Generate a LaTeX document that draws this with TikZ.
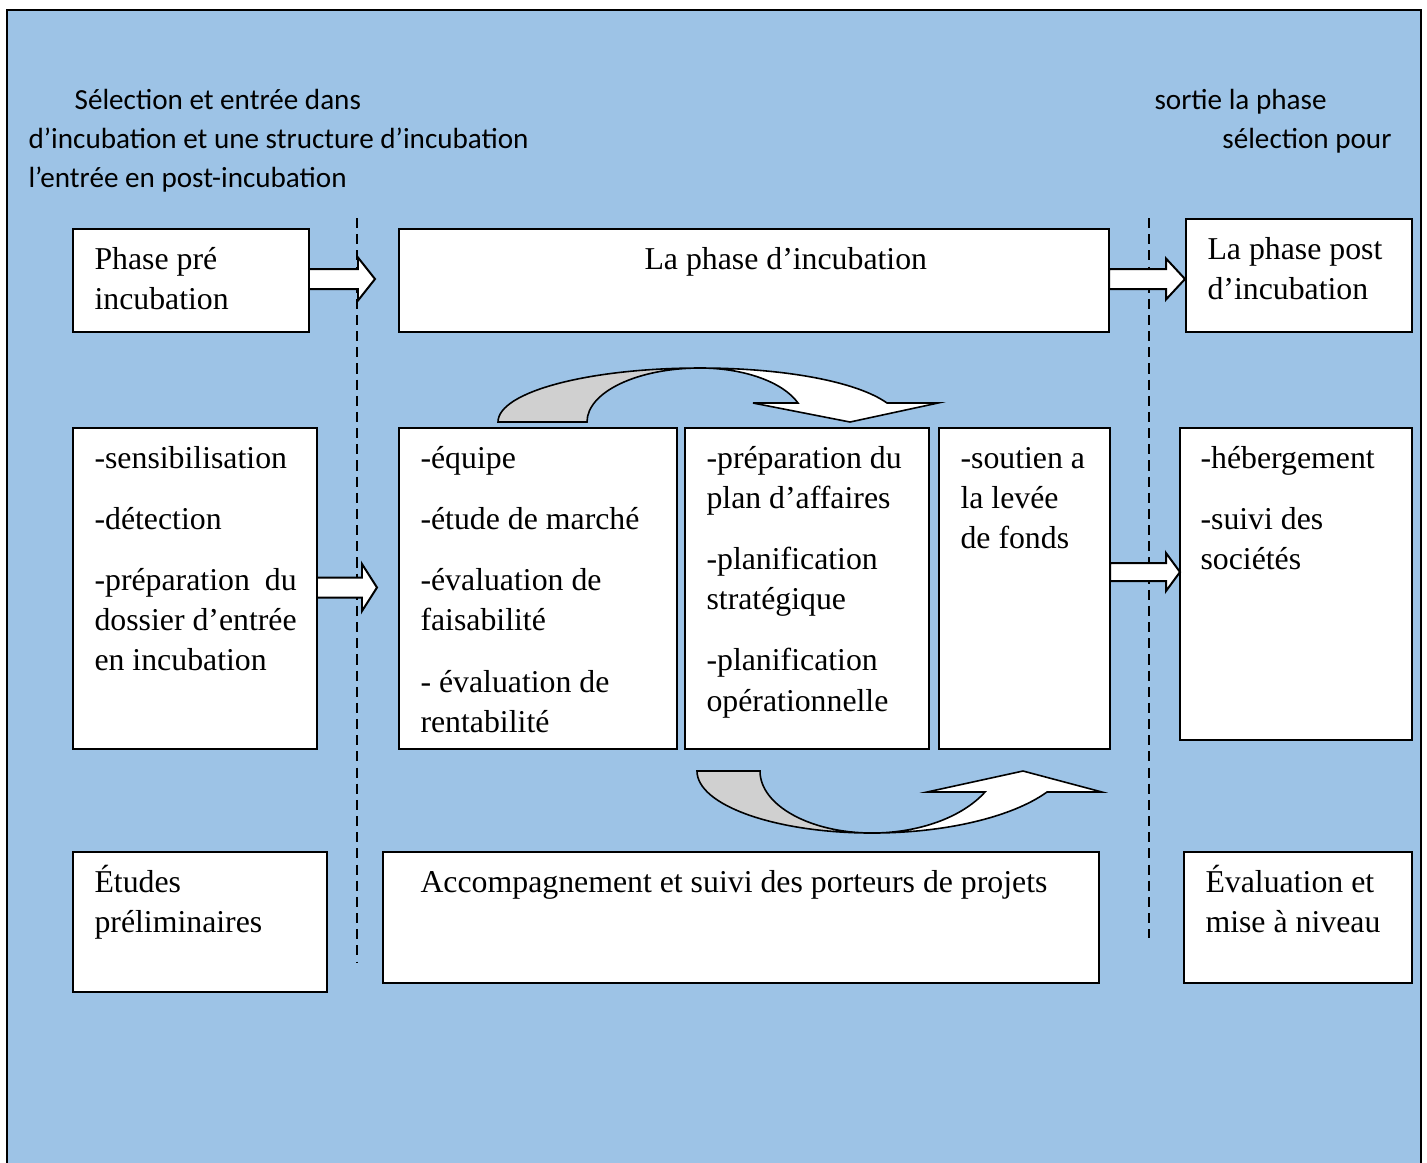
\documentclass[tikz,border=0pt]{standalone}
\usepackage{fontspec}
\setmainfont{Liberation Serif}
\newfontfamily\calibrifont{Carlito}
\usetikzlibrary{calc,fit}
\definecolor{panelblue}{HTML}{9DC3E6}
\definecolor{backband}{HTML}{D0D0D0}
\newcommand\serifsize{\fontsize{12}{15.1}\selectfont}
\newcommand\sanssize{\calibrifont\fontsize{11}{14.72}\selectfont}
% block arrow from the east side of node #1 to the tip #2;
% #3 half shaft, #4 half head, #5 head length (picture units)
\newcommand\flowarrow[5]{%
  \draw[blockarr] ($(#1 |- #2)+(0,-#3)$) -- ($(#2)+(-#5,-#3)$) -- ($(#2)+(-#5,-#4)$)
    -- (#2) -- ($(#2)+(-#5,#4)$) -- ($(#2)+(-#5,#3)$) -- ($(#1 |- #2)+(0,#3)$) -- cycle;}
\begin{document}
\begin{tikzpicture}[x=0.3774pt, y=-0.3774pt,
  box/.style={draw=black, fill=white, line width=0.75pt, inner sep=0pt, outer sep=0pt},
  txt/.style={font=\serifsize, anchor=base west, inner sep=0pt, text width=300pt, align=flush left},
  side/.style={font=\sanssize, inner sep=0pt},
  blockarr/.style={draw=black, fill=white, line width=0.75pt, line join=miter},
  sepline/.style={draw=black, line width=0.75pt, dash pattern=on 3.8pt off 2.3pt},
  band/.style={draw=black, line width=0.6pt, line join=miter}]
\useasboundingbox (0,0) rectangle (1427,1162);
\fill[white] (0,0) rectangle (1427,1162);
\clip (0,0) rectangle (1427,1162);
% background panel
\draw[fill=panelblue, line width=1pt] (7,10) rectangle (1421,1180);

% side captions
\node[side, anchor=base west, text width=300pt, align=flush left] (capL) at (28,109)
  {\hspace*{17.4pt}Sélection et entrée dans\\d’incubation et une structure d’incubation\\l’entrée en post-incubation};
\node[side, anchor=base west] (capR1) at (1154,109) {sortie la phase};
\node[side, anchor=base east] (capR2) at (1392,148) {sélection pour};

% phase separators
\coordinate (s1top) at (357,218); \coordinate (s1bot) at (357,962);
\coordinate (s2top) at (1149,218); \coordinate (s2bot) at (1149,938);
\draw[sepline] (s1top) -- (s1bot);
\draw[sepline] (s2top) -- (s2bot);

% top row
\node[box, fit={(73,229) (309,332)}] (pre) {};
\node[box, fit={(399,229) (1109,332)}] (inc) {};
\node[box, fit={(1186,219) (1412,332)}] (post) {};
\node[txt] (preT) at (94,269) {Phase pré\\incubation};
\node[txt] (incT) at (644,269) {La phase d’incubation};
\node[txt] (postT) at (1207,259) {La phase post\\d’incubation};

% middle row
\node[box, fit={(73,428) (317,749)}] (sens) {};
\node[box, fit={(399,428) (677,749)}] (equipe) {};
\node[box, fit={(685,428) (929,749)}] (plan) {};
\node[box, fit={(939,428) (1110,749)}] (fonds) {};
\node[box, fit={(1180,428) (1412,740)}] (heberg) {};
\node[txt] (sensT) at (94,468) {-sensibilisation\\[8.1pt]-détection\\[8.1pt]\makebox[76.3pt][s]{-préparation du}\\dossier d’entrée\\en incubation};
\node[txt] (equipeT) at (420,468) {-équipe\\[8.1pt]-étude de marché\\[8.1pt]-évaluation de\\faisabilité\\[8.1pt]- évaluation de\\rentabilité};
\node[txt] (planT) at (706,468) {-préparation du\\plan d’affaires\\[8.1pt]-planification\\stratégique\\[8.1pt]-planification\\opérationnelle};
\node[txt] (fondsT) at (960,468) {-soutien a\\la levée\\de fonds};
\node[txt] (hebergT) at (1200,468) {-hébergement\\[8.1pt]-suivi des\\sociétés};

% bottom row
\node[box, fit={(73,852) (327,992)}] (etudes) {};
\node[box, fit={(383,852) (1099,983)}] (accomp) {};
\node[box, fit={(1184,852) (1412,983)}] (evalu) {};
\node[txt] (etudesT) at (94,892) {Études\\préliminaires};
\node[txt] (accompT) at (420,892) {Accompagnement et suivi des porteurs de projets};
\node[txt] (evaluT) at (1205,892) {Évaluation et\\mise à niveau};

% straight block arrows
\coordinate (tip1) at (375,279);
\coordinate (tip2) at (1185,279);
\coordinate (tip3) at (377,587.5);
\coordinate (tip4) at (1180,572);
\flowarrow{pre.east}{tip1}{10}{21.5}{17}
\flowarrow{inc.east}{tip2}{10}{20.5}{19}
\flowarrow{sens.east}{tip3}{10}{23.5}{15}
\flowarrow{fonds.east}{tip4}{9}{19}{14}

% curved arrow over the middle row
\draw[band, fill=backband] (498,422) .. controls (498,392) and (588.5,368) .. (700,368)
  .. controls (637.6,368) and (587,392) .. (587,422) -- cycle;
\draw[band, fill=white] (700,368) .. controls (782,368) and (856,381) .. (887,403)
  -- (938,403) -- (850,422) -- (753,403) -- (798,403)
  .. controls (783,382) and (744,368) .. (700,368) -- cycle;

% curved arrow under the middle row
\draw[band, fill=backband] (697,771) .. controls (697,805.2) and (775.4,833) .. (872,833)
  .. controls (810,833) and (760,805.2) .. (760,771) -- cycle;
\draw[band, fill=white] (872,833) .. controls (944.7,833) and (1011.8,817.3) .. (1047,792)
  -- (1102,792) -- (1023,771) -- (927,792) -- (985,792)
  .. controls (962.2,817.3) and (918.9,833) .. (872,833) -- cycle;
\end{tikzpicture}
\end{document}
